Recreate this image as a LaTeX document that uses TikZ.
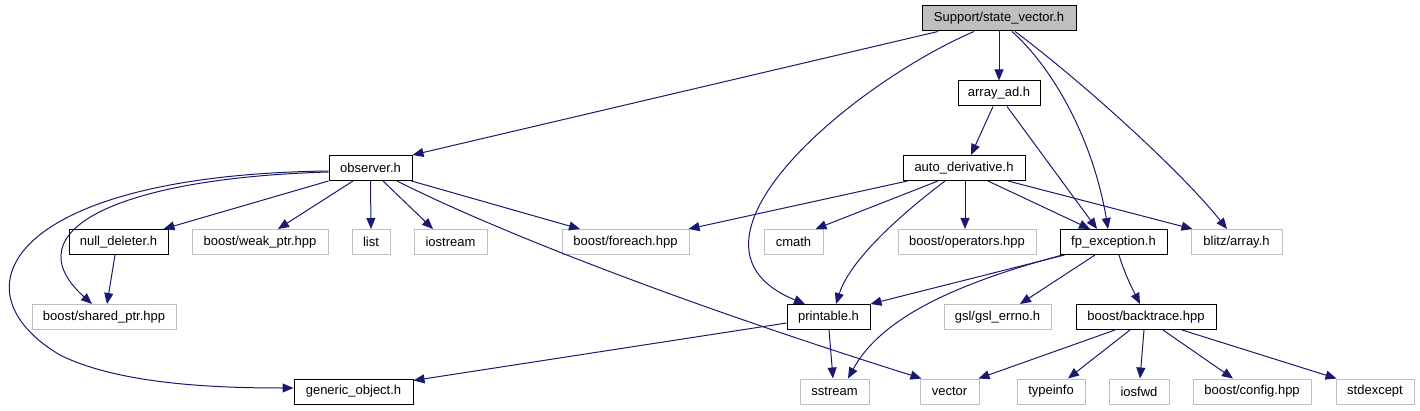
\documentclass[tikz,border=0pt]{standalone}
\usepackage{fontspec}
\setmainfont{Liberation Sans}
\usetikzlibrary{arrows.meta,calc}
\definecolor{navy}{HTML}{191970}
\definecolor{lightgrey}{HTML}{BFBFBF}
\definecolor{svfill}{HTML}{BFBFBF}
\tikzset{
  box/.style={draw=black, line width=1pt, fill=white, inner sep=0pt, minimum height=25pt,
    font=\fontsize{13}{15}\selectfont, text=black},
  ext/.style={box, draw=lightgrey},
  edge/.style={draw=navy, line width=1pt, -{Triangle[length=11pt,width=9pt]}},
}
\begin{document}
\begin{tikzpicture}[x=1pt,y=-1pt]
\useasboundingbox (0,0) rectangle (1420,411);
% nodes
\node[box, fill=svfill, minimum width=154pt] (sv) at (999,18.5) {Support/state\_vector.h};
\node[box, minimum width=82pt] (arr) at (999,93.5) {array\_ad.h};
\node[box, minimum width=83pt] (obs) at (370.5,168) {observer.h};
\node[box, minimum width=122pt] (ad) at (964,168) {auto\_derivative.h};
\node[box, minimum width=99pt] (nd) at (118.5,242) {null\_deleter.h};
\node[ext, minimum width=136pt] (wp) at (260,242) {boost/weak\_ptr.hpp};
\node[ext, minimum width=38pt] (list) at (371,242) {list};
\node[ext, minimum width=73pt] (ios) at (450.5,242) {iostream};
\node[ext, minimum width=127pt] (fe) at (625.5,242) {boost/foreach.hpp};
\node[ext, minimum width=59pt] (cmath) at (793.5,242) {cmath};
\node[ext, minimum width=138pt] (ops) at (967,242) {boost/operators.hpp};
\node[box, minimum width=107pt] (fp) at (1113.5,242) {fp\_exception.h};
\node[ext, minimum width=91pt] (blitz) at (1236.5,242) {blitz/array.h};
\node[ext, minimum width=144pt] (sp) at (104,317) {boost/shared\_ptr.hpp};
\node[box, minimum width=83pt] (pr) at (828.5,317) {printable.h};
\node[ext, minimum width=107pt] (gsl) at (997.5,317) {gsl/gsl\_errno.h};
\node[box, minimum width=140pt] (bt) at (1146,317) {boost/backtrace.hpp};
\node[box, minimum width=119pt] (go) at (353.5,391.5) {generic\_object.h};
\node[ext, minimum width=69pt] (ss) at (834.5,391.5) {sstream};
\node[ext, minimum width=59pt] (vec) at (949.5,391.5) {vector};
\node[ext, minimum width=68pt] (ti) at (1051,391.5) {typeinfo};
\node[ext, minimum width=60pt] (iosfwd) at (1139,391.5) {iosfwd};
\node[ext, minimum width=118pt] (cfg) at (1252,391.5) {boost/config.hpp};
\node[ext, minimum width=78pt] (se) at (1375,391.5) {stdexcept};
% edges from state_vector
\draw[edge] ($(sv.south)+(-61,0)$) -- (obs.north east);
\draw[edge] ($(sv.south)+(-25,0)$) .. controls (850,85) and (660,245) .. ($(pr.north)+(-23.5,0)$);
\draw[edge] (sv.south) -- (arr.north);
\draw[edge] ($(sv.south)+(13,0)$) .. controls (1060,75) and (1095,150) .. ($(fp.north)+(-5.5,0)$);
\draw[edge] ($(sv.south)+(16,0)$) .. controls (1080,80) and (1180,170) .. ($(blitz.north)+(-9.5,0)$);
% array_ad
\draw[edge] ($(arr.south)+(-6,0)$) -- ($(ad.north)+(7,0)$);
\draw[edge] ($(arr.south)+(8,0)$) -- ($(fp.north)+(-16.5,0)$);
% observer
\draw[edge] (obs.south west) -- ($(nd.north east)+(-5,0)$);
\draw[edge] ($(obs.south)+(-17.5,0)$) -- ($(wp.north)+(18,0)$);
\draw[edge] (obs.south) -- (list.north);
\draw[edge] ($(obs.south)+(12.5,0)$) -- ($(ios.north)+(-17.5,0)$);
\draw[edge] ($(obs.south east)+(-1,0)$) -- ($(fe.north)+(-45.5,0)$);
\draw[edge] ($(obs.south)+(26.5,0)$) .. controls (470,218) and (640,290) .. ($(vec.north west)+(2,0)$);
\draw[edge] ($(obs.west)+(0,4)$) .. controls (120,178) and (10,230) .. ($(sp.north)+(-12,0)$);
\draw[edge] ($(obs.west)+(0,3)$) .. controls (10,175) and (-50,290) .. (60,355) .. controls (120,385) and (220,388) .. ($(go.west)+(0,-3.5)$);
% null_deleter
\draw[edge] ($(nd.south)+(-3.5,0)$) -- ($(sp.north)+(3,0)$);
% auto_derivative
\draw[edge] ($(ad.south west)+(5,0)$) -- ($(fe.north east)+(-1,0)$);
\draw[edge] ($(ad.south)+(-26,0)$) -- ($(cmath.north east)+(-8,0)$);
\draw[edge] ($(ad.south)+(-19,0)$) .. controls (900,215) and (850,260) .. ($(pr.north)+(7.5,0)$);
\draw[edge] ($(ad.south)+(1,0)$) -- ($(ops.north)+(-2,0)$);
\draw[edge] ($(ad.south)+(24,0)$) -- ($(fp.north)+(-23.5,0)$);
\draw[edge] ($(ad.south)+(44,0)$) -- ($(blitz.north west)+(2,0)$);
% fp_exception
\draw[edge] ($(fp.south west)+(5,0)$) -- (pr.north east);
\draw[edge] ($(fp.south west)+(3,0)$) .. controls (950,285) and (880,320) .. ($(ss.north)+(13.5,0)$);
\draw[edge] ($(fp.south)+(-18.5,0)$) -- ($(gsl.north)+(22.5,0)$);
\draw[edge] ($(fp.south)+(5.5,0)$) .. controls (1125,275) and (1133,290) .. ($(bt.north)+(-6,0)$);
% printable
\draw[edge] ($(pr.west)+(0,6)$) -- ($(go.east)+(0,-11)$);
\draw[edge] ($(pr.south)+(0.5,0)$) -- ($(ss.north)+(-1.5,0)$);
% backtrace
\draw[edge] ($(bt.south)+(-31,0)$) -- ($(vec.north east)+(-1,0)$);
\draw[edge] ($(bt.south)+(-16,0)$) -- ($(ti.north)+(17,0)$);
\draw[edge] ($(bt.south)+(-2,0)$) -- ($(iosfwd.north)+(1,0)$);
\draw[edge] ($(bt.south)+(17,0)$) -- ($(cfg.north)+(-19,0)$);
\draw[edge] ($(bt.south)+(36,0)$) -- ($(se.north west)+(1,0)$);
\end{tikzpicture}
\end{document}
